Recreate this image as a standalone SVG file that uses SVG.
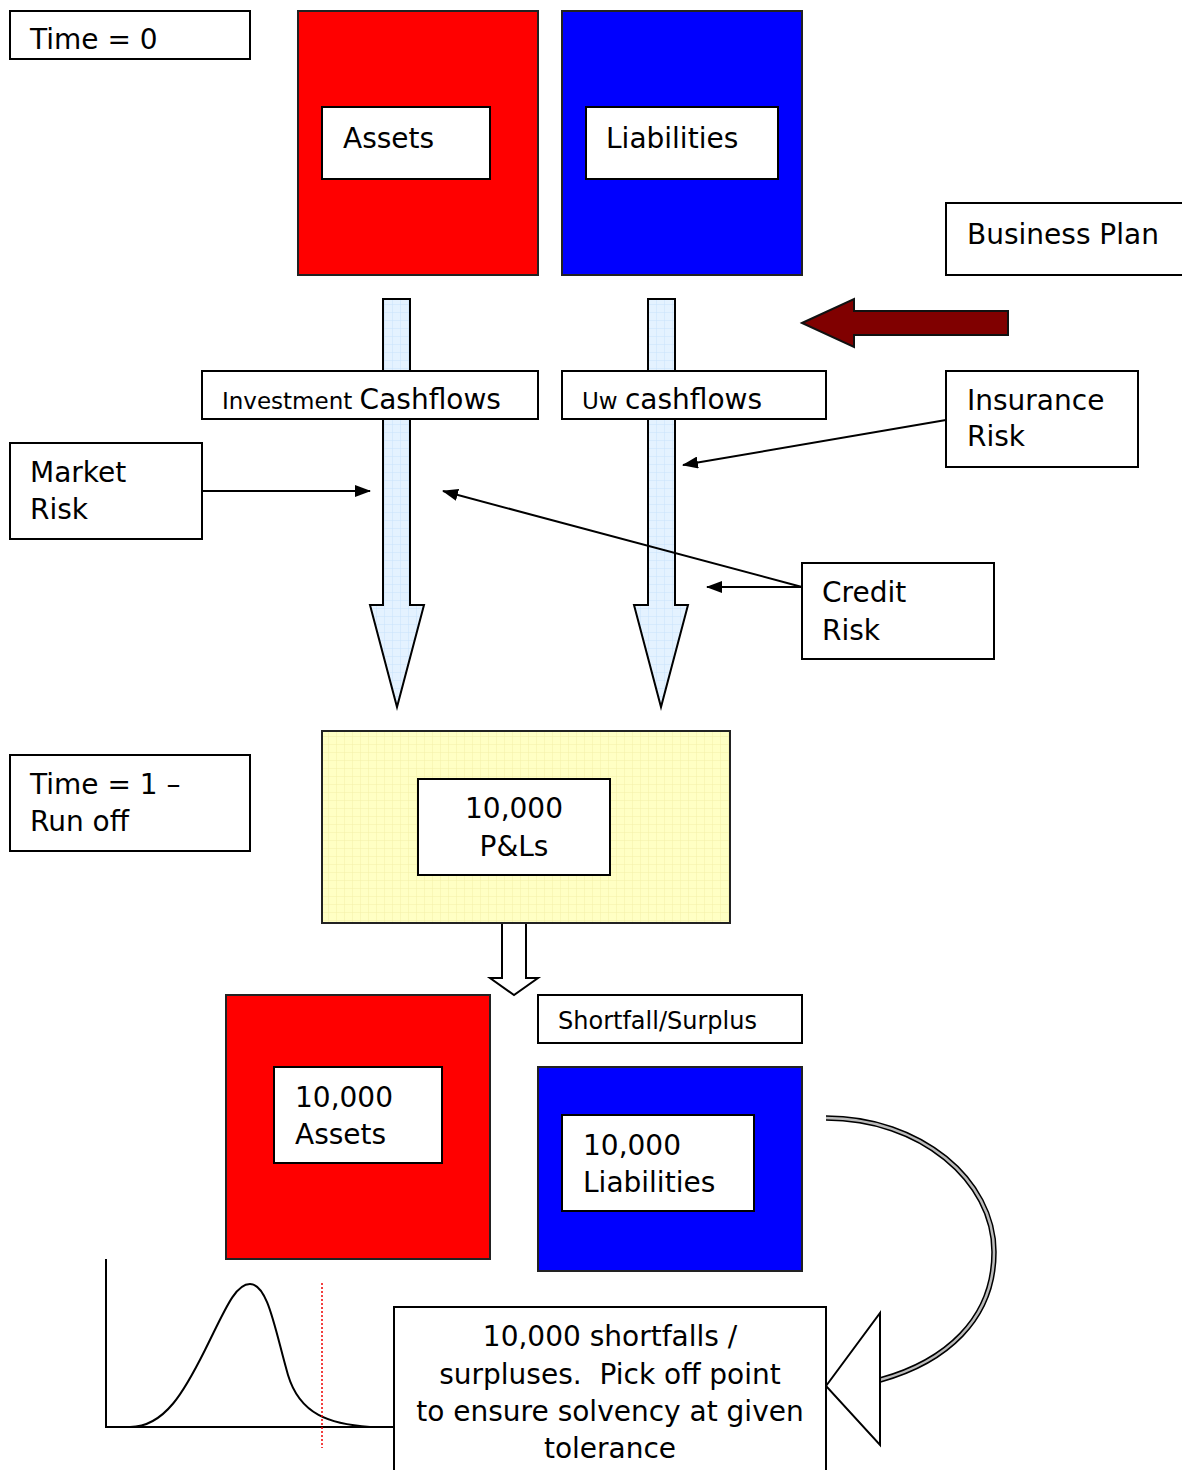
<svg xmlns="http://www.w3.org/2000/svg" width="1182" height="1470" viewBox="0 0 1182 1470">
<defs>
<style>
.t{font-family:"DejaVu Sans",Verdana,sans-serif;font-size:28px;fill:#000}
.box{fill:#fff;stroke:#000;stroke-width:2}
.red{fill:#ff0000;stroke:#222;stroke-width:2}
.blue{fill:#0000ff;stroke:#222;stroke-width:2}
.ln{stroke:#000;stroke-width:2;fill:none}
</style>
<pattern id="gb" width="8" height="8" patternUnits="userSpaceOnUse">
<rect width="8" height="8" fill="#e4f2ff"/>
<path d="M0 0H8M0 0V8" stroke="#c9e2fb" stroke-width="1"/>
</pattern>
<pattern id="gy" width="8" height="8" patternUnits="userSpaceOnUse">
<rect width="8" height="8" fill="#ffffc4"/>
<path d="M0 0H8M0 0V8" stroke="#f4f0a8" stroke-width="1"/>
</pattern>
<marker id="ah" markerWidth="16" markerHeight="12" refX="15" refY="6" orient="auto" markerUnits="userSpaceOnUse">
<path d="M0 0L16 6L0 12Z" fill="#000"/>
</marker>
</defs>

<g id="time0"><rect class="box" x="10" y="11" width="240" height="48"/><text class="t" x="30" y="49">Time = 0</text></g>
<g id="assets0"><rect class="red" x="298" y="11" width="240" height="264"/><rect class="box" x="322" y="107" width="168" height="72"/><text class="t" x="343" y="148">Assets</text></g>
<g id="liab0"><rect class="blue" x="562" y="11" width="240" height="264"/><rect class="box" x="586" y="107" width="192" height="72"/><text class="t" x="606" y="148">Liabilities</text></g>
<g id="bplan"><rect class="box" x="946" y="203" width="250" height="72"/><text class="t" x="967" y="244">Business Plan</text></g>
<g id="bparrow"><path d="M802 323L854 299V311H1008V335H854V347Z" fill="#800000" stroke="#111" stroke-width="2"/></g>

<g id="invarrow"><path d="M383 299H410V605H424L397 707L370 605H383Z" fill="url(#gb)" stroke="#000" stroke-width="2"/></g>
<g id="uwarrow"><path d="M648 299H675V605H688L661 707L634 605H648Z" fill="url(#gb)" stroke="#000" stroke-width="2"/></g>

<g id="invcf"><rect class="box" x="202" y="371" width="336" height="48"/><text class="t" x="222" y="409"><tspan style="font-size:23px">Investment </tspan>Cashflows</text></g>
<g id="uwcf"><rect class="box" x="562" y="371" width="264" height="48"/><text class="t" x="582" y="409"><tspan style="font-size:23px">Uw </tspan>cashflows</text></g>

<g id="market"><rect class="box" x="10" y="443" width="192" height="96"/><text class="t" x="30" y="482">Market</text><text class="t" x="30" y="519">Risk</text></g>
<g id="insurance"><rect class="box" x="946" y="371" width="192" height="96"/><text class="t" x="967" y="410">Insurance</text><text class="t" x="967" y="446">Risk</text></g>
<g id="credit"><rect class="box" x="802" y="563" width="192" height="96"/><text class="t" x="822" y="602">Credit</text><text class="t" x="822" y="640">Risk</text></g>

<g id="connectors">
<line class="ln" x1="202" y1="491" x2="370" y2="491" marker-end="url(#ah)"/>
<line class="ln" x1="946" y1="420" x2="683" y2="465" marker-end="url(#ah)"/>
<line class="ln" x1="802" y1="587" x2="707" y2="587" marker-end="url(#ah)"/>
<line class="ln" x1="802" y1="587" x2="443" y2="491" marker-end="url(#ah)"/>
<path d="M502 923H526V978H538L514 995L490 978H502Z" fill="#fff" stroke="#000" stroke-width="2"/>
<path d="M826 1118C920 1118 994 1180 994 1252C994 1320 945 1362 880 1380" fill="none" stroke="#000" stroke-width="5.5"/>
<path d="M826 1118C920 1118 994 1180 994 1252C994 1320 945 1362 880 1380" fill="none" stroke="#bbb" stroke-width="2.5"/>
<path d="M826 1386L880 1313V1445Z" fill="#fff" stroke="#000" stroke-width="2"/>
</g>

<g id="time1"><rect class="box" x="10" y="755" width="240" height="96"/><text class="t" x="30" y="794">Time = 1 –</text><text class="t" x="30" y="831">Run off</text></g>
<g id="pl"><rect x="322" y="731" width="408" height="192" fill="url(#gy)" stroke="#222" stroke-width="2"/><rect class="box" x="418" y="779" width="192" height="96"/><text class="t" x="514" y="818" text-anchor="middle">10,000</text><text class="t" x="514" y="856" text-anchor="middle">P&amp;Ls</text></g>

<g id="assets1"><rect class="red" x="226" y="995" width="264" height="264"/><rect class="box" x="274" y="1067" width="168" height="96"/><text class="t" x="295" y="1107">10,000</text><text class="t" x="295" y="1144">Assets</text></g>
<g id="shortfall"><rect class="box" x="538" y="995" width="264" height="48"/><text class="t" x="558" y="1029" style="font-size:24px">Shortfall/Surplus</text></g>
<g id="liab1"><rect class="blue" x="538" y="1067" width="264" height="204"/><rect class="box" x="562" y="1115" width="192" height="96"/><text class="t" x="583" y="1155">10,000</text><text class="t" x="583" y="1192">Liabilities</text></g>

<g id="chart">
<path d="M106 1259V1427H394" class="ln"/>
<path d="M130 1427C165 1427 185 1390 205 1350C225 1310 235 1284 250 1284C268 1284 275 1330 288 1375C300 1415 330 1424 370 1427" class="ln"/>
<line x1="322" y1="1283" x2="322" y2="1448" stroke="#e00" stroke-width="1.5" stroke-dasharray="2,2"/>
</g>

<g id="result"><rect class="box" x="394" y="1307" width="432" height="175"/>
<text class="t" x="610" y="1346" text-anchor="middle">10,000 shortfalls /</text>
<text class="t" x="610" y="1384" text-anchor="middle" xml:space="preserve">surpluses.  Pick off point</text>
<text class="t" x="610" y="1421" text-anchor="middle">to ensure solvency at given</text>
<text class="t" x="610" y="1458" text-anchor="middle">tolerance</text>
</g>
</svg>
